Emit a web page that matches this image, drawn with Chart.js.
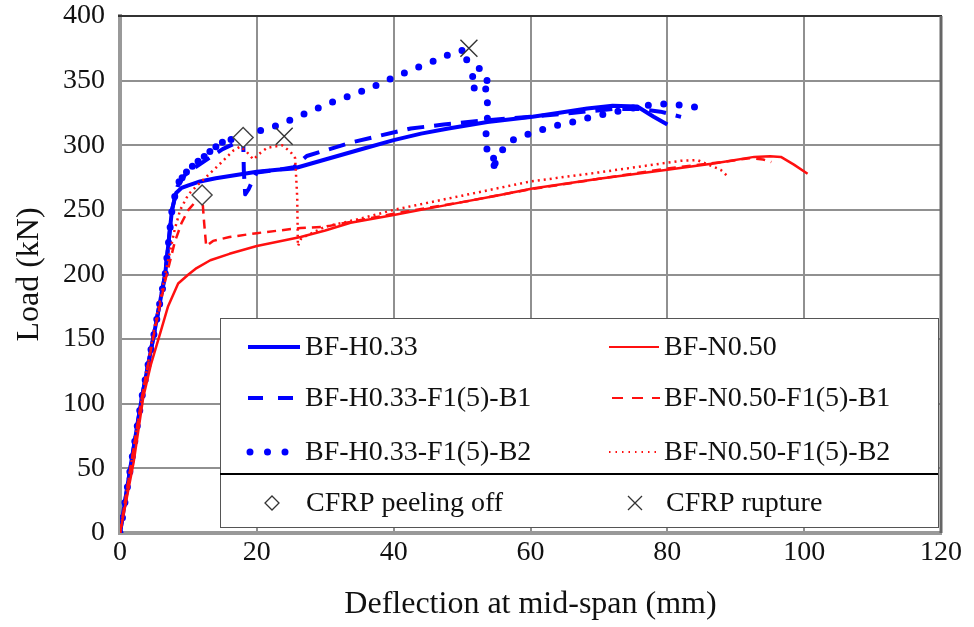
<!DOCTYPE html>
<html>
<head>
<meta charset="utf-8">
<script src="https://cdn.jsdelivr.net/npm/chart.js@4.4.1/dist/chart.umd.min.js"></script>
<style>
  html, body { margin: 0; padding: 0; background: #fff; }
  #myChart { display: block; }
</style>
</head>
<body>
<canvas id="myChart" width="974" height="627"></canvas>
<script>
// deflection (mm) and load (kN)
const h033X = [0, 1.5, 3.2, 4.9, 6.6, 7.6, 8.2, 9, 10, 11.7, 14, 17, 20, 23, 25.4, 30, 35, 40, 44, 48, 53.7, 60.3, 64, 68.3, 72, 75.6, 78, 80];
const h033Y = [0, 50, 105, 152, 200, 250, 263, 267, 269, 272, 274.5, 277, 279.5, 281, 282, 289, 296.5, 304, 309, 313, 318, 322, 325, 328.5, 330.5, 330, 322, 316];

const h033B1X = [0, 3.2, 4.9, 6.6, 7.6, 8.4, 9.5, 11, 13, 15, 17, 18, 18.1, 18.3, 18.8, 19.3, 20, 23, 25.4, 27.3, 34.2, 42.5, 47.3, 52.7, 60, 66, 72, 76, 79, 82];
const h033B1Y = [0, 105, 152, 200, 250, 268, 277, 283, 290, 297, 302, 306, 280, 262, 266, 272, 279, 281, 283, 291.7, 302.7, 313, 316, 319, 322, 325, 328, 328, 326, 322];

// noisy readings near the knee make the thick band
const h033B2X = [0, 3.2, 4.9, 6.6, 7.6, 8.3, 9, 8.8, 9.6, 9.4, 10.2, 10.1, 11, 10.8, 11.8, 11.6, 12.6, 12.4, 13.4, 13.2, 14.2, 14, 15.1, 15, 16, 16.6, 18, 21, 23.4, 25.9, 28, 30.3, 32.7, 35, 37.3, 39.6, 41.9, 44.2, 46.6, 48.8, 50.5, 50.2, 51.5, 53, 51.5, 53.7, 51.5, 53.7, 53.7, 53.7, 53.4, 53.9, 55.4, 54.2, 56.5, 58.8, 61.1, 63.6, 66, 68.5, 70.8, 73.4, 75.9, 78.3, 80.8, 83.2, 85.6];
const h033B2Y = [0, 105, 152, 200, 250, 268, 276, 272, 280, 277, 283, 280, 287, 284, 290, 287, 293, 290, 297, 294, 300, 297, 303, 300, 304, 305, 308, 312, 316, 322, 326.5, 332, 336.5, 341, 346, 351.5, 356.7, 361.6, 366.7, 372, 374, 368.5, 362, 358, 353, 350, 343.5, 343.5, 331, 318, 304, 289, 291, 280, 302, 307, 311, 315, 317.7, 321.3, 324, 327, 329.8, 332, 332, 330, 328.6];

const n050X = [0, 2, 3.4, 4.5, 5.9, 7, 8.5, 10, 11.2, 13.2, 16, 20, 26.4, 30, 33.7, 40, 44, 50, 55, 60.3, 70, 80, 87, 92.7, 95, 96.6, 98.5, 100.5];
const n050Y = [0, 55, 105, 130, 155, 175, 193, 200, 205, 211, 216, 222, 229, 234, 240, 246, 250, 256, 261, 266.5, 274, 281, 286, 291, 291.5, 291, 285, 278];

const n050B1X = [0, 3.2, 5, 6.6, 8, 9, 10, 11, 12, 12.3, 12.6, 13.6, 16, 20, 26.4, 30, 34, 40, 50, 60, 70, 80, 88, 92, 94, 95.2];
const n050B1Y = [0, 105, 155, 195, 225, 240, 250, 256, 261, 240, 222, 226, 229, 232, 236, 237, 241, 247, 256, 266, 274, 282, 287, 290, 289, 287];

const n050B2X = [0, 3.2, 5, 6.6, 8, 8.8, 10, 11.5, 12.7, 14.1, 16.6, 17.6, 18.5, 19.5, 20.5, 21.5, 23.7, 24.9, 25.6, 25.9, 26, 26.5, 30, 35, 40, 50, 60, 70, 78, 82, 84.4, 86, 87.8, 88.8];
const n050B2Y = [0, 105, 158, 200, 235, 250, 262, 270, 276, 283, 296, 299, 295, 289, 294, 298, 300, 295, 290, 260, 222, 228, 237, 243, 250, 261, 272, 279, 285, 288, 288.5, 285, 281, 276];

// CFRP events
const peelX = [12, 18];
const peelY = [261.5, 306];
const ruptX = [24, 51];
const ruptY = [307, 375];

const seriesNames = ["BF-H0.33", "BF-H0.33-F1(5)-B1", "BF-H0.33-F1(5)-B2", "BF-N0.50", "BF-N0.50-F1(5)-B1", "BF-N0.50-F1(5)-B2"];
const markerNames = ["CFRP peeling off", "CFRP rupture"];

const BLUE = "#0000ff";
const RED = "#ff1010";
const SERIF = "'Liberation Serif', 'Times New Roman', serif";

function pts(xs, ys) {
  return xs.map((x, i) => ({ x: x, y: ys[i] }));
}

function curve(label, xs, ys, color, width, dash, cap, order) {
  return {
    label: label,
    data: pts(xs, ys),
    showLine: true,
    borderColor: color,
    backgroundColor: color,
    borderWidth: width,
    borderDash: dash,
    borderCapStyle: cap,
    borderJoinStyle: "round",
    pointRadius: 0,
    tension: 0,
    order: order
  };
}

// legend drawn inside the plot, with frame edges
const frameLegend = {
  id: "frameLegend",
  afterDraw(chart) {
    const ctx = chart.ctx;
    const a = chart.chartArea;
    ctx.save();
    ctx.setLineDash([]);
    ctx.strokeStyle = "#333";
    ctx.lineWidth = 2;
    ctx.beginPath();
    ctx.moveTo(a.left - 2, a.top);
    ctx.lineTo(a.right + 1, a.top);
    ctx.stroke();
    ctx.strokeStyle = "#666";
    ctx.lineWidth = 3;
    ctx.beginPath();
    ctx.moveTo(a.right, a.top);
    ctx.lineTo(a.right, a.bottom);
    ctx.stroke();

    // box
    const bx = 220, by = 318, bw = 718, bh = 209;
    ctx.fillStyle = "#fff";
    ctx.fillRect(bx, by, bw, bh);
    ctx.strokeStyle = "#555";
    ctx.lineWidth = 1;
    ctx.strokeRect(bx + 0.5, by + 0.5, bw, bh);
    ctx.strokeStyle = "#000";
    ctx.lineWidth = 2;
    ctx.beginPath();
    ctx.moveTo(bx, 474);
    ctx.lineTo(bx + bw, 474);
    ctx.stroke();

    const rows = [347, 398, 452];
    const samples = [
      { x0: 248, x1: 300, color: BLUE, w: 4, dash: [], cap: "butt" },
      { x0: 248, x1: 296, color: BLUE, w: 4, dash: [15, 15], cap: "butt" },
      { x0: 250, x1: 287, color: BLUE, w: 7, dash: [0, 17.5], cap: "round" },
      { x0: 609, x1: 659, color: RED, w: 2, dash: [], cap: "butt" },
      { x0: 612, x1: 660, color: RED, w: 2, dash: [11, 9], cap: "butt" },
      { x0: 609, x1: 657, color: RED, w: 2, dash: [1.5, 5], cap: "butt" }
    ];
    ctx.font = "28px " + SERIF;
    ctx.textBaseline = "middle";
    ctx.textAlign = "left";
    samples.forEach((s, i) => {
      const y = rows[i % 3];
      ctx.strokeStyle = s.color;
      ctx.lineWidth = s.w;
      ctx.lineCap = s.cap;
      ctx.setLineDash(s.dash);
      ctx.beginPath();
      ctx.moveTo(s.x0, y);
      ctx.lineTo(s.x1, y);
      ctx.stroke();
      ctx.fillStyle = "#111";
      ctx.fillText(seriesNames[i], i < 3 ? 305 : 664, y + 1);
    });

    // marker rows
    ctx.setLineDash([]);
    ctx.lineCap = "butt";
    ctx.strokeStyle = "#333";
    ctx.lineWidth = 1.3;
    const my = 503;
    ctx.beginPath();
    ctx.moveTo(272, my - 7);
    ctx.lineTo(279, my);
    ctx.lineTo(272, my + 7);
    ctx.lineTo(265, my);
    ctx.closePath();
    ctx.stroke();
    ctx.beginPath();
    ctx.moveTo(628, my - 7);
    ctx.lineTo(642, my + 7);
    ctx.moveTo(642, my - 7);
    ctx.lineTo(628, my + 7);
    ctx.stroke();
    ctx.fillStyle = "#111";
    ctx.fillText(markerNames[0], 306, my + 1);
    ctx.fillText(markerNames[1], 666, my + 1);
    ctx.restore();
  }
};

const context = document.getElementById("myChart");
const myChart = new Chart(context, {
  type: "scatter",
  data: {
    datasets: [
      {
        label: markerNames[0],
        data: pts(peelX, peelY),
        pointStyle: "rectRot",
        pointRadius: 10,
        borderColor: "#444",
        backgroundColor: "#fff",
        borderWidth: 1.4,
        order: 0
      },
      {
        label: markerNames[1],
        data: pts(ruptX, ruptY),
        pointStyle: "crossRot",
        pointRadius: 12,
        borderColor: "#333",
        borderWidth: 1.4,
        order: 0
      },
      curve(seriesNames[5], n050B2X, n050B2Y, RED, 2.5, [2, 4], "butt", 1),
      curve(seriesNames[4], n050B1X, n050B1Y, RED, 2.5, [9, 6], "butt", 2),
      curve(seriesNames[3], n050X, n050Y, RED, 2.5, [], "butt", 3),
      curve(seriesNames[1], h033B1X, h033B1Y, BLUE, 4, [17, 10], "butt", 4),
      curve(seriesNames[0], h033X, h033Y, BLUE, 4, [], "butt", 5),
      curve(seriesNames[2], h033B2X, h033B2Y, BLUE, 7, [0, 15.5], "round", 6)
    ]
  },
  options: {
    responsive: false,
    animation: false,
    layout: { padding: { top: 16, right: 33, left: 0, bottom: 0 } },
    plugins: {
      legend: { display: false },
      tooltip: { enabled: false }
    },
    scales: {
      x: {
        type: "linear",
        min: 0,
        max: 120,
        ticks: { stepSize: 20, color: "#111", padding: 3, font: { family: SERIF, size: 28 } },
        grid: { color: "#909090", lineWidth: 2, drawTicks: false },
        border: { color: "#999", width: 4 },
        title: { display: true, text: "Deflection at mid-span (mm)", color: "#111", font: { family: SERIF, size: 32 }, padding: { top: 0, bottom: 3 } },
        afterFit: function (s) {
          s.height = 94;
          s.paddingLeft = 0;
          s.paddingRight = 0;
        }
      },
      y: {
        min: 0,
        max: 400,
        ticks: { stepSize: 50, color: "#111", padding: 15, font: { family: SERIF, size: 28 } },
        grid: { color: "#909090", lineWidth: 2, drawTicks: false },
        border: { color: "#999", width: 4 },
        title: { display: true, text: "Load (kN)", color: "#111", font: { family: SERIF, size: 32 }, padding: { top: 10, bottom: 0 } },
        afterFit: function (s) {
          s.width = 120;
          s.paddingTop = 0;
          s.paddingBottom = 0;
        }
      }
    }
  },
  plugins: [frameLegend]
});
</script>
</body>
</html>
